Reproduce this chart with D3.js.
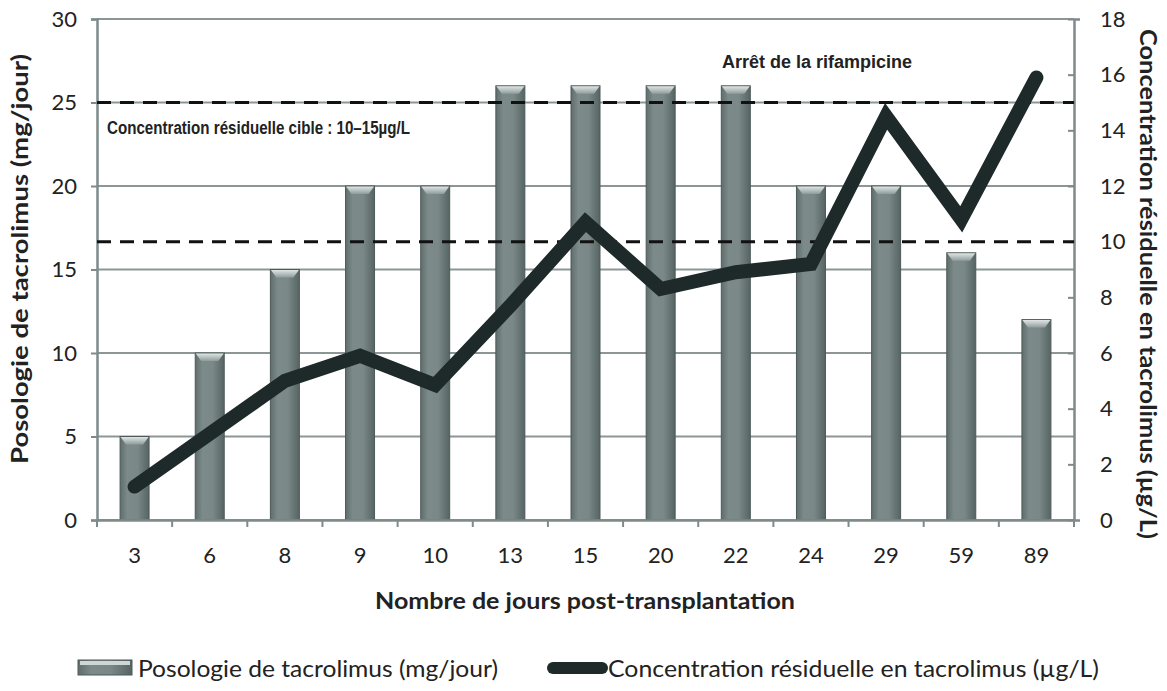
<!DOCTYPE html>
<html><head><meta charset="utf-8">
<script src="https://cdn.jsdelivr.net/npm/d3@7"></script>
<style>body{margin:0;background:#fff}svg{display:block}</style>
</head><body>
<svg id="c" width="1167" height="691"></svg>
<script>
const days = ["3","6","8","9","10","13","15","20","22","24","29","59","89"];
const dose = [5,10,15,20,20,26,26,26,26,20,20,16,12];
const conc = [1.2,3.1,5.0,5.9,4.85,7.7,10.7,8.3,8.9,9.2,14.5,10.8,15.9];
const leftTicks = [0,5,10,15,20,25,30];
const rightTicks = [0,2,4,6,8,10,12,14,16,18];
const targetLines = [10,15];

const svg = d3.select("#c");
const L=97, R=1074, T=19, B=520;
const font = "Lato, 'Open Sans', sans-serif";
const x = d3.scaleBand().domain(days).range([L,R]);
const yL = d3.scaleLinear().domain([0,30]).range([B,T]);
const yR = d3.scaleLinear().domain([0,18]).range([B,T]);

const defs = svg.append("defs");
const g = defs.append("linearGradient").attr("id","bar").attr("x1","0").attr("x2","1");
g.append("stop").attr("offset","0").attr("stop-color","#5f6e6d");
g.append("stop").attr("offset","0.25").attr("stop-color","#7c8b8a");
g.append("stop").attr("offset","0.6").attr("stop-color","#7a8988");
g.append("stop").attr("offset","1").attr("stop-color","#566564");
const gc = defs.append("linearGradient").attr("id","cap").attr("x1","0").attr("x2","0").attr("y1","0").attr("y2","1");
gc.append("stop").attr("offset","0").attr("stop-color","#dfe5e4");
gc.append("stop").attr("offset","1").attr("stop-color","#8e9c9b");

// gridlines
svg.append("g").selectAll("line").data(leftTicks).join("line")
  .attr("x1",L).attr("x2",R).attr("y1",d=>yL(d)).attr("y2",d=>yL(d))
  .attr("stroke","#8b9695").attr("stroke-width",2);

// bars
const bw = 29;
const bars = svg.append("g").selectAll("g").data(days).join("g");
bars.append("rect")
  .attr("x",d=>x(d)+x.bandwidth()/2-bw/2).attr("width",bw)
  .attr("y",(d,i)=>yL(dose[i])).attr("height",(d,i)=>B-yL(dose[i]))
  .attr("fill","url(#bar)").attr("stroke","#4d5a59").attr("stroke-width",1);
bars.append("path")
  .attr("d",(d,i)=>{const x0=x(d)+x.bandwidth()/2-bw/2, y0=yL(dose[i]);
    return `M${x0+0.5},${y0+0.5} L${x0+bw-0.5},${y0+0.5} L${x0+bw-6},${y0+8} L${x0+6},${y0+8} Z`;})
  .attr("fill","url(#cap)");

// axes
const axL = svg.append("g").attr("transform",`translate(${L},0)`)
  .call(d3.axisLeft(yL).tickValues(leftTicks).tickSize(6).tickPadding(14));
const axR = svg.append("g").attr("transform",`translate(${R},0)`)
  .call(d3.axisRight(yR).tickValues(rightTicks).tickSize(6).tickPadding(20));
const axX = svg.append("g").attr("transform",`translate(0,${B})`)
  .call(d3.axisBottom(x).tickSize(0).tickPadding(27));
[axL,axR,axX].forEach(a=>{
  a.select(".domain").attr("stroke","#7f8b8a").attr("stroke-width",2.5);
  a.selectAll(".tick line").attr("stroke","#7f8b8a").attr("stroke-width",2);
  a.selectAll("text").attr("font-family",font).attr("font-size",22).attr("fill","#222");
});
axR.selectAll(".tick line").attr("x1",-6).attr("x2",0);
// x ticks between categories
svg.append("g").selectAll("line").data(days).join("line")
  .attr("x1",d=>x(d)).attr("x2",d=>x(d)).attr("y1",B).attr("y2",B+7)
  .attr("stroke","#7f8b8a").attr("stroke-width",2);
svg.append("line").attr("x1",R).attr("x2",R).attr("y1",B).attr("y2",B+7).attr("stroke","#7f8b8a").attr("stroke-width",2);

// target dashed lines
svg.append("g").selectAll("line").data(targetLines).join("line")
  .attr("x1",L).attr("x2",R).attr("y1",d=>yR(d)).attr("y2",d=>yR(d))
  .attr("stroke","#111").attr("stroke-width",3).attr("stroke-dasharray","14,9");

// concentration line
const line = d3.line().x((d,i)=>x(days[i])+x.bandwidth()/2).y(d=>yR(d));
svg.append("path").datum(conc).attr("d",line)
  .attr("fill","none").attr("stroke","#1e2a2a").attr("stroke-width",14)
  .attr("stroke-linecap","round").attr("stroke-linejoin","miter");

// annotations
const cf = "'Liberation Sans Narrow', 'Arial Narrow', sans-serif";
svg.append("text").attr("x",722).attr("y",68).text("Arrêt de la rifampicine")
  .attr("font-family",cf).attr("font-weight","bold").attr("font-size",18).attr("fill","#222")
  .attr("textLength",190).attr("lengthAdjust","spacingAndGlyphs");
svg.append("text").attr("x",107).attr("y",134).text("Concentration résiduelle cible : 10–15µg/L")
  .attr("font-family",cf).attr("font-weight","bold").attr("font-size",18).attr("fill","#222")
  .attr("textLength",303).attr("lengthAdjust","spacingAndGlyphs");

// axis titles
svg.append("text").attr("x",585).attr("y",609).attr("text-anchor","middle")
  .text("Nombre de jours post-transplantation").attr("font-family",font).attr("font-weight","bold").attr("font-size",23).attr("fill","#222")
  .attr("textLength",420).attr("lengthAdjust","spacingAndGlyphs");
svg.append("text").attr("transform",`translate(28,259) rotate(-90)`).attr("text-anchor","middle")
  .text("Posologie de tacrolimus (mg/jour)").attr("font-family",font).attr("font-weight","bold").attr("font-size",23).attr("fill","#222")
  .attr("textLength",410).attr("lengthAdjust","spacingAndGlyphs");
svg.append("text").attr("transform",`translate(1140,284) rotate(90)`).attr("text-anchor","middle")
  .text("Concentration résiduelle en tacrolimus (µg/L)").attr("font-family",font).attr("font-weight","bold").attr("font-size",23).attr("fill","#222")
  .attr("textLength",510).attr("lengthAdjust","spacingAndGlyphs");

// legend
const lg = svg.append("g");
lg.append("rect").attr("x",78).attr("y",660).attr("width",54).attr("height",15).attr("fill","url(#bar)").attr("stroke","#4d5a59");
lg.append("rect").attr("x",80).attr("y",661).attr("width",50).attr("height",4).attr("fill","#cfd7d6");
lg.append("text").attr("x",138).attr("y",677).text("Posologie de tacrolimus (mg/jour)")
  .attr("font-family",font).attr("font-size",24).attr("fill","#222")
  .attr("textLength",360).attr("lengthAdjust","spacingAndGlyphs");
lg.append("line").attr("x1",553).attr("x2",602).attr("y1",668).attr("y2",668)
  .attr("stroke","#1e2a2a").attr("stroke-width",12).attr("stroke-linecap","round");
lg.append("text").attr("x",608).attr("y",677).text("Concentration résiduelle en tacrolimus (µg/L)")
  .attr("font-family",font).attr("font-size",24).attr("fill","#222")
  .attr("textLength",491).attr("lengthAdjust","spacingAndGlyphs");
</script>
</body></html>
